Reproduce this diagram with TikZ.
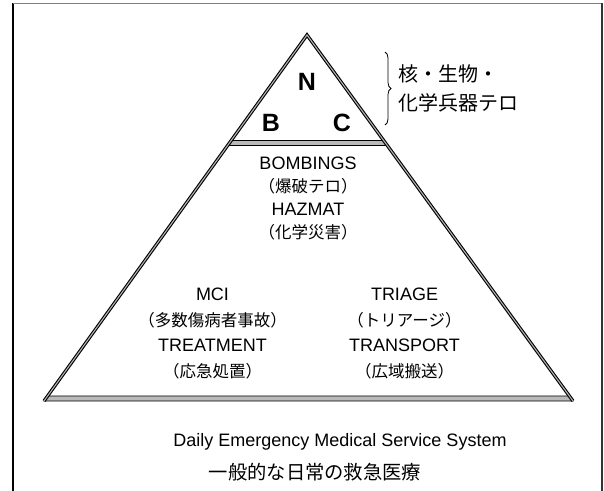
\documentclass[tikz,border=0pt]{standalone}
\usepackage{fontspec}
\setmainfont{Liberation Sans}
\newfontfamily\cjk{Noto Sans CJK JP}
\usetikzlibrary{decorations.pathreplacing,calc}
\newcommand\jpl[1]{{\cjk\fontsize{16.5}{23}\selectfont #1}}
\newcommand\jpm[1]{{\cjk\fontsize{16.5}{25.5}\selectfont #1}}
\begin{document}
\begin{tikzpicture}[x=1pt,y=-1pt,
  edge/.style={draw=black, line width=1.1pt, double=gray!60, double distance=1.1pt, line join=miter},
  stripe/.style={fill=gray!55, draw=black, line width=0.6pt},
  lbl/.style={font=\fontsize{18}{23}\selectfont, align=center, inner sep=0pt},
  lblb/.style={font=\fontsize{18}{25.5}\selectfont, align=center, inner sep=0pt},
  big/.style={font=\fontsize{25}{25}\selectfont\bfseries, inner sep=0pt},
]
\useasboundingbox (0,0) rectangle (604,490);
% frame
\draw[line width=1.5pt] (13,3) -- (13,491);
\draw[gray, line width=0.8pt] (13,3) -- (602,3);
\draw[black!80, line width=1.2pt] (602,3) -- (602,491);
% triangle
\coordinate (A) at (307,35);
\coordinate (L) at (44,401);
\coordinate (R) at (573,401);
\path[stripe] ($(A)!0.2883!(L)$) -- ($(A)!0.2883!(R)$) -- ($(A)!0.3019!(R)$) -- ($(A)!0.3019!(L)$) -- cycle;
\path[stripe] ($(A)!0.9863!(L)$) -- ($(A)!0.9863!(R)$) -- (R) -- (L) -- cycle;
\draw[edge] (L) -- (A) -- (R);
% brace
\coordinate (bt) at (385,52);
\coordinate (bb) at (385,125);
\draw[decorate, decoration={brace, amplitude=6pt}, line width=0.8pt] (bt) -- (bb);
% texts
\node[big] (N) at (307,82) {N};
\node[big] (B) at (271,123) {B};
\node[big] (C) at (342,123) {C};
\node[anchor=west, font=\cjk\fontsize{20}{29}\selectfont, align=left, inner sep=0pt] (nbc) at (398,88) {核・生物・\\化学兵器テロ};
\node[lbl] (mid) at (308,198.5) {BOMBINGS\\\jpl{（爆破テロ）}\\HAZMAT\\\jpl{（化学災害）}};
\node[lblb] (mci) at (212.5,333.5) {MCI\\\jpm{（多数傷病者事故）}\\TREATMENT\\\jpm{（応急処置）}};
\node[lblb] (tri) at (404.5,333.5) {TRIAGE\\\jpm{（トリアージ）}\\TRANSPORT\\\jpm{（広域搬送）}};
\node[font=\fontsize{18}{23}\selectfont, inner sep=0pt] (daily) at (340,441.6) {Daily Emergency Medical Service System};
\node[font=\cjk\fontsize{19.3}{23}\selectfont, inner sep=0pt] (jp) at (315,472) {一般的な日常の救急医療};
\end{tikzpicture}
\end{document}
